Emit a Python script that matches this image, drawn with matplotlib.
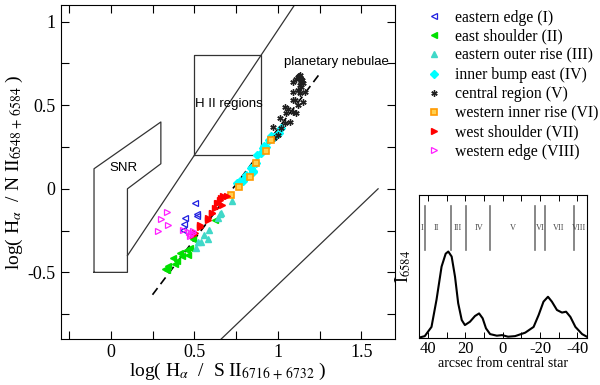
import numpy as np
import matplotlib
matplotlib.use("Agg")
import matplotlib.pyplot as plt
from matplotlib.ticker import MultipleLocator

plt.rcParams['font.family'] = ['Liberation Serif', 'DejaVu Serif']
plt.rcParams['mathtext.fontset'] = 'stix'

# --- data (log Ha/SII, log Ha/NII) ---
east_edge_x = [0.505, 0.514, 0.518, 0.446, 0.44, 0.43]
east_edge_y = [-0.082, -0.149, -0.161, -0.175, -0.21, -0.249]

east_sh_x = [0.326, 0.336, 0.345, 0.375, 0.385, 0.395, 0.415, 0.425, 0.455, 0.464, 0.474, 0.49, 0.623]
east_sh_y = [-0.479, -0.487, -0.463, -0.414, -0.453, -0.434, -0.384, -0.404, -0.368, -0.394, -0.354, -0.30, -0.185]

east_rise_x = [0.508, 0.52, 0.538, 0.56, 0.58, 0.589, 0.639, 0.653, 0.659, 0.726]
east_rise_y = [-0.354, -0.318, -0.318, -0.274, -0.298, -0.249, -0.175, -0.149, -0.145, -0.072]

inner_bump_x = [0.756, 0.772, 0.79, 0.81, 0.81, 0.84, 0.851, 0.85, 0.87, 0.875, 0.9, 0.91,
                0.92, 0.93, 0.95, 0.96, 0.98, 1.006, 1.02]
inner_bump_y = [0.034, 0.044, 0.044, 0.073, 0.084, 0.123, 0.109, 0.103, 0.153, 0.203, 0.213, 0.243,
                0.258, 0.253, 0.29, 0.316, 0.308, 0.332, 0.362]

central_x = [0.97, 0.98, 1.0, 1.01, 1.02, 1.04, 1.04, 1.05, 1.06, 1.074, 1.09, 1.09, 1.1, 1.093,
             1.093, 1.11, 1.13, 1.14, 1.15, 1.14, 1.12, 1.13, 1.16, 1.15, 1.12, 1.11,
             1.12, 1.125, 1.135, 1.14, 1.145, 1.13]
central_y = [0.372, 0.303, 0.322, 0.422, 0.362, 0.392, 0.491, 0.452, 0.476, 0.402, 0.461, 0.531, 0.531, 0.581,
             0.64, 0.66, 0.68, 0.66, 0.631, 0.61, 0.59, 0.571, 0.58, 0.521, 0.501, 0.452,
             0.67, 0.675, 0.665, 0.645, 0.65, 0.62]

west_rise_x = [0.722, 0.768, 0.832, 0.87, 0.93, 0.957]
west_rise_y = [-0.04, 0.01, 0.068, 0.157, 0.229, 0.292]

west_sh_x = [0.494, 0.504, 0.534, 0.534, 0.583, 0.583, 0.604, 0.607, 0.623, 0.633, 0.643, 0.653,
             0.657, 0.663, 0.673, 0.693]
west_sh_y = [-0.274, -0.264, -0.231, -0.215, -0.185, -0.175, -0.145, -0.145, -0.115, -0.085, -0.085, -0.066,
             -0.055, -0.095, -0.046, -0.042]

west_edge_x = [0.336, 0.3, 0.345, 0.282, 0.435, 0.47, 0.48, 0.49, 0.475, 0.495]
west_edge_y = [-0.141, -0.179, -0.215, -0.252, -0.249, -0.26, -0.27, -0.255, -0.28, -0.265]

# --- N II 6584 cut along the slit ---
cut_arcsec = [45, 41.8, 38.2, 35.5, 32.8, 30.6, 29.2, 27.4, 25.6, 23.9, 22.0, 20.3, 17.6, 14.9,
              12.7, 10.8, 9.0, 6.8, 3.2, 0.4, -2.8, -6.6, -12, -16.5, -19.2, -21.8, -24.2,
              -26.3, -29, -31.7, -33.9, -36.2, -38.9, -42.5, -45]
cut_int = [0.005, 0.016, 0.08, 0.27, 0.5, 0.59, 0.605, 0.57, 0.43, 0.245, 0.128, 0.093, 0.116, 0.156,
           0.174, 0.14, 0.07, 0.03, 0.019, 0.023, 0.012, 0.016, 0.04, 0.08, 0.163, 0.256, 0.29,
           0.256, 0.198, 0.18, 0.186, 0.15, 0.08, 0.03, 0.012]
region_edges = [41.8, 27.8, 19.9, 7.0, -17.0, -22.7, -38.1]
region_names = ['I', 'II', 'III', 'IV', 'V', 'VI', 'VII', 'VIII']
region_pos = [43.5, 35.5, 23.9, 12.6, -5.4, -20, -30, -41]

fig = plt.figure(figsize=(6, 3.85), dpi=100)
ax = fig.add_axes([0.101, 0.119, 0.557, 0.868])

# model regions
ax.plot([-0.1, -0.1, 0.3, 0.3, 0.1, 0.1, -0.1], [-0.5, 0.12, 0.4, 0.15, 0.0, -0.5, -0.5],
        color='0.2', lw=0.9)
ax.plot([0.5, 0.9, 0.9, 0.5, 0.5], [0.2, 0.2, 0.8, 0.8, 0.2], color='0.2', lw=0.9)
ax.plot([0.1, 1.1], [-0.4, 1.1], color='0.2', lw=0.9)
ax.plot([0.66, 1.6], [-0.9, 0.0], color='0.2', lw=0.9)
ax.plot([0.25, 1.25], [-0.634, 0.688], color='k', lw=1.2, ls=(0, (5, 3)))

ms = 4.5
ax.plot(east_edge_x, east_edge_y, '<', mfc='none', mec='#2020e0', ms=ms, mew=0.9, ls='none',
        label='eastern edge (I)')
ax.plot(east_sh_x, east_sh_y, '<', color='#00e000', ms=ms, ls='none', label='east shoulder (II)')
ax.plot(east_rise_x, east_rise_y, '^', color='#40d8c8', ms=ms, ls='none', label='eastern outer rise (III)')
ax.plot(inner_bump_x, inner_bump_y, 'D', color='#00ffff', ms=ms - 0.5, ls='none', label='inner bump east (IV)')
ax.plot(central_x, central_y, marker=(6, 2, 0), color='#202020', ms=ms, mew=1.0, ls='none',
        label='central region (V)')
ax.plot(west_rise_x, west_rise_y, 's', mfc='#ffd050', mec='#ff9900', mew=1.2, ms=ms, ls='none',
        label='western inner rise (VI)')
ax.plot(west_sh_x, west_sh_y, '>', color='#ff0000', ms=ms, ls='none', label='west shoulder (VII)')
ax.plot(west_edge_x, west_edge_y, '>', mfc='none', mec='#ff20ff', ms=ms, mew=0.9, ls='none',
        label='western edge (VIII)')

ax.text(0.075, 0.127, 'SNR', family='Liberation Sans', fontsize=9.5, ha='center', va='center')
ax.text(0.707, 0.507, 'H II regions', family='Liberation Sans', fontsize=9.5, ha='center', va='center')
ax.text(1.35, 0.76, 'planetary nebulae', family='Liberation Sans', fontsize=9.5, ha='center', va='center')

ax.set_xlim(-0.3, 1.7)
ax.set_ylim(-0.9, 1.1)
ax.xaxis.set_minor_locator(MultipleLocator(0.25))
ax.yaxis.set_minor_locator(MultipleLocator(0.25))
ax.set_xticks([0, 0.5, 1, 1.5])
ax.set_xticklabels(['0', '0.5', '1', '1.5'])
ax.set_yticks([-0.5, 0, 0.5, 1])
ax.set_yticklabels(['-0.5', '0', '0.5', '1'])
ax.tick_params(which='both', direction='in', top=True, right=True, labelsize=13, length=6, width=0.8)
ax.set_xlabel(r'log( H$_{\alpha}$  /  S II$_{6716\,+\,6732}$ )', fontsize=14, labelpad=0)
ax.set_ylabel(r'log( H$_{\alpha}$  / N II$_{6548\,+\,6584}$ )', fontsize=14, labelpad=2)

ax.legend(loc='upper left', bbox_to_anchor=(1.075, 1.005), frameon=False, fontsize=11.3,
          handlelength=1.0, handletextpad=0.85, labelspacing=0.2, borderaxespad=0.0, numpoints=1)

# inset: N II cut
ax2 = fig.add_axes([0.698, 0.121, 0.28, 0.373])
ax2.plot(cut_arcsec, cut_int, color='k', lw=1.5)
for e in region_edges:
    ax2.plot([e, e], [0.616, 0.925], color='0.45', lw=1.2)
for n, p in zip(region_names, region_pos):
    ax2.text(p, 0.77, n, fontsize=6, ha='center', va='center', color='0.3')
ax2.set_xlim(45, -45)
ax2.set_ylim(0, 1)
ax2.set_yticks([])
ax2.set_xticks([40, 20, 0, -20, -40])
ax2.set_xticklabels(['40', '20', '0', '-20', '-40'])
ax2.xaxis.set_minor_locator(MultipleLocator(10))
ax2.tick_params(which='both', direction='in', top=True, labelsize=12, length=4, width=0.7, pad=2)
ax2.set_xlabel('arcsec from central star', fontsize=10, labelpad=0)
ax2.set_ylabel(r'I$_{6584}$', fontsize=13, labelpad=4)

fig.savefig('out.png', dpi=100)
